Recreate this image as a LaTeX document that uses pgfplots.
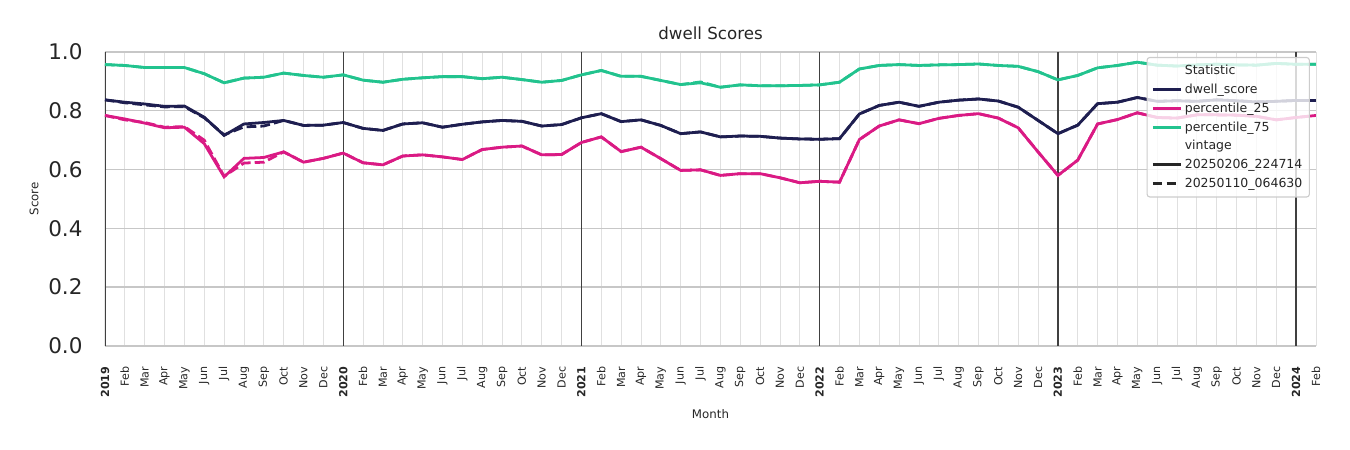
\documentclass[border=0pt]{standalone}
\usepackage{pgfplots}
\pgfplotsset{compat=1.18}
\usepackage{pgfplotstable}
\usepackage{fontspec}
\setmainfont{DejaVu Sans}
\definecolor{mynavy}{HTML}{1E1E50}
\definecolor{mypink}{HTML}{DA1A84}
\definecolor{myteal}{HTML}{22C38E}
\definecolor{txt}{HTML}{262626}
\pgfplotsset{myleg/.style={legend image code/.code={\draw[##1, line width=2.2pt] (0pt,0pt) -- (20pt,0pt);}},
  noleg/.style={legend image code/.code={}}}

\pgfplotstableread{
i dw p25 p75 dwo p25o p75o
0 0.837 0.784 0.957 0.837 0.784 0.957
1 0.829 0.772 0.954 0.827 0.769 0.954
2 0.823 0.758 0.947 0.820 0.760 0.947
3 0.815 0.742 0.947 0.813 0.744 0.947
4 0.816 0.744 0.947 0.814 0.746 0.947
5 0.778 0.688 0.926 0.776 0.700 0.926
6 0.716 0.575 0.895 0.718 0.577 0.895
7 0.755 0.638 0.911 0.745 0.622 0.911
8 0.760 0.641 0.914 0.748 0.625 0.914
9 0.767 0.660 0.928 0.767 0.660 0.928
10 0.750 0.625 0.920 0.750 0.625 0.920
11 0.751 0.638 0.914 0.751 0.638 0.914
12 0.760 0.656 0.922 0.760 0.656 0.922
13 0.740 0.623 0.904 0.740 0.623 0.904
14 0.733 0.616 0.897 0.733 0.616 0.897
15 0.755 0.646 0.907 0.755 0.646 0.907
16 0.759 0.650 0.912 0.759 0.650 0.912
17 0.744 0.643 0.916 0.744 0.643 0.916
18 0.754 0.634 0.916 0.754 0.634 0.916
19 0.762 0.668 0.909 0.762 0.668 0.909
20 0.767 0.676 0.914 0.767 0.676 0.914
21 0.764 0.680 0.906 0.764 0.680 0.906
22 0.748 0.650 0.897 0.748 0.650 0.897
23 0.753 0.651 0.903 0.753 0.651 0.903
24 0.776 0.692 0.922 0.776 0.692 0.922
25 0.790 0.711 0.937 0.790 0.711 0.937
26 0.763 0.661 0.917 0.763 0.661 0.917
27 0.769 0.676 0.917 0.769 0.676 0.917
28 0.750 0.637 0.903 0.750 0.637 0.903
29 0.722 0.597 0.889 0.722 0.597 0.889
30 0.728 0.599 0.895 0.728 0.599 0.898
31 0.711 0.580 0.880 0.711 0.580 0.880
32 0.714 0.586 0.888 0.714 0.586 0.888
33 0.713 0.586 0.885 0.713 0.586 0.885
34 0.707 0.572 0.885 0.707 0.572 0.885
35 0.704 0.555 0.886 0.704 0.555 0.886
36 0.703 0.560 0.888 0.703 0.560 0.888
37 0.705 0.557 0.897 0.705 0.557 0.897
38 0.789 0.702 0.942 0.789 0.702 0.942
39 0.818 0.748 0.954 0.818 0.748 0.954
40 0.829 0.769 0.957 0.829 0.769 0.957
41 0.815 0.756 0.954 0.815 0.756 0.954
42 0.829 0.774 0.956 0.829 0.774 0.956
43 0.836 0.784 0.957 0.836 0.784 0.957
44 0.840 0.790 0.959 0.840 0.790 0.959
45 0.833 0.775 0.954 0.833 0.775 0.954
46 0.812 0.742 0.951 0.812 0.742 0.951
47 0.767 0.660 0.933 0.767 0.660 0.933
48 0.722 0.580 0.905 0.722 0.580 0.905
49 0.751 0.632 0.920 0.751 0.632 0.920
50 0.824 0.755 0.946 0.824 0.755 0.946
51 0.829 0.770 0.954 0.829 0.770 0.954
52 0.845 0.793 0.965 0.845 0.793 0.965
53 0.832 0.777 0.955 0.832 0.777 0.955
54 0.834 0.775 0.952 0.834 0.775 0.952
55 0.832 0.786 0.956 0.832 0.786 0.956
56 0.837 0.786 0.958 0.837 0.786 0.958
57 0.834 0.785 0.956 0.834 0.785 0.956
58 0.830 0.781 0.955 0.830 0.781 0.955
59 0.832 0.769 0.961 0.832 0.769 0.961
60 0.835 0.777 0.958 0.835 0.777 0.958
61 0.835 0.784 0.958 0.835 0.784 0.958
}\data

\begin{document}
\begin{tikzpicture}
\begin{axis}[
  width=872pt, height=211.7pt, scale only axis,
  xmin=0, xmax=61, ymin=0, ymax=1,
  axis line style={draw=none},
  major tick length=0pt,
  xtick={0,...,61},
  xticklabels={\textbf{2019},Feb,Mar,Apr,May,Jun,Jul,Aug,Sep,Oct,Nov,Dec,
    \textbf{2020},Feb,Mar,Apr,May,Jun,Jul,Aug,Sep,Oct,Nov,Dec,
    \textbf{2021},Feb,Mar,Apr,May,Jun,Jul,Aug,Sep,Oct,Nov,Dec,
    \textbf{2022},Feb,Mar,Apr,May,Jun,Jul,Aug,Sep,Oct,Nov,Dec,
    \textbf{2023},Feb,Mar,Apr,May,Jun,Jul,Aug,Sep,Oct,Nov,Dec,
    \textbf{2024},Feb},
  xticklabel style={rotate=90, anchor=east, inner sep=0pt, font=\fontsize{8}{9.6}\selectfont, text=txt},
  xticklabel shift=14.8pt,
  ytick={0,0.2,0.4,0.6,0.8,1.0},
  yticklabel style={/pgf/number format/.cd, fixed, fixed zerofill, precision=1, /pgf/number format/assume math mode=true, /tikz/.cd, inner sep=0pt, anchor=east, font=\fontsize{15.5}{18}\selectfont, text=txt},
  yticklabel shift=16pt,
  xmajorgrids, ymajorgrids,
  x grid style={color=black!12, line width=0.6pt},
  y grid style={color=black!22, line width=1pt},
  title={dwell Scores},
  title style={at={(axis description cs:0.5,1.034)}, anchor=center, font=\fontsize{12}{14}\selectfont, text=txt},
  xlabel={Month},
  xlabel style={at={(axis description cs:0.5,-0.2315)}, anchor=center, font=\fontsize{8.5}{10}\selectfont, text=txt},
  ylabel={Score},
  ylabel style={at={(axis description cs:-0.0585,0.5)}, anchor=center, font=\fontsize{8.5}{10}\selectfont, text=txt},
  legend cell align=left,
  legend style={at={(axis description cs:0.995,0.983)}, anchor=north east,
    fill=white, fill opacity=0.8, draw opacity=1, text opacity=1,
    draw=black!20, line width=0.8pt, rounded corners=2pt,
    font=\fontsize{9}{10.8}\selectfont, text=txt,
    inner xsep=3pt, inner ysep=3pt, row sep=0pt,
    nodes={inner ysep=2.6pt}},
]
\draw[color=black!22, line width=1.8pt] (axis cs:0,0) -- (axis cs:61,0);
\addplot[forget plot, color=black!75, line width=1pt] coordinates {(0,0) (0,1)};
\addplot[forget plot, color=black!75, line width=1pt] coordinates {(12,0) (12,1)};
\addplot[forget plot, color=black!75, line width=1pt] coordinates {(24,0) (24,1)};
\addplot[forget plot, color=black!75, line width=1pt] coordinates {(36,0) (36,1)};
\addplot[forget plot, color=black!75, line width=1pt] coordinates {(48,0) (48,1)};
\addplot[forget plot, color=black!75, line width=1pt] coordinates {(60,0) (60,1)};
\addplot[forget plot, color=myteal, line width=2pt] table[x=i, y=p75] {\data};
\addplot[forget plot, color=mypink, line width=2pt] table[x=i, y=p25] {\data};
\addplot[forget plot, color=mynavy, line width=2pt] table[x=i, y=dw] {\data};
\addplot[forget plot, color=myteal, line width=2pt, dash pattern=on 7pt off 3pt] table[x=i, y=p75o] {\data};
\addplot[forget plot, color=mypink, line width=2pt, dash pattern=on 7pt off 3pt] table[x=i, y=p25o] {\data};
\addplot[forget plot, color=mynavy, line width=2pt, dash pattern=on 7pt off 3pt] table[x=i, y=dwo] {\data};
\addlegendimage{noleg}
\addlegendentry{Statistic}
\addlegendimage{myleg, color=mynavy}
\addlegendentry{dwell\_score}
\addlegendimage{myleg, color=mypink}
\addlegendentry{percentile\_25}
\addlegendimage{myleg, color=myteal}
\addlegendentry{percentile\_75}
\addlegendimage{noleg}
\addlegendentry{vintage}
\addlegendimage{myleg, color=black!85}
\addlegendentry{20250206\_224714}
\addlegendimage{myleg, color=black!85, dash pattern=on 7pt off 3pt}
\addlegendentry{20250110\_064630}
\end{axis}
\pgfresetboundingbox
\path[use as bounding box] (-75.6pt,-74.9pt) rectangle (896.5pt,249.1pt);
\end{tikzpicture}
\end{document}
